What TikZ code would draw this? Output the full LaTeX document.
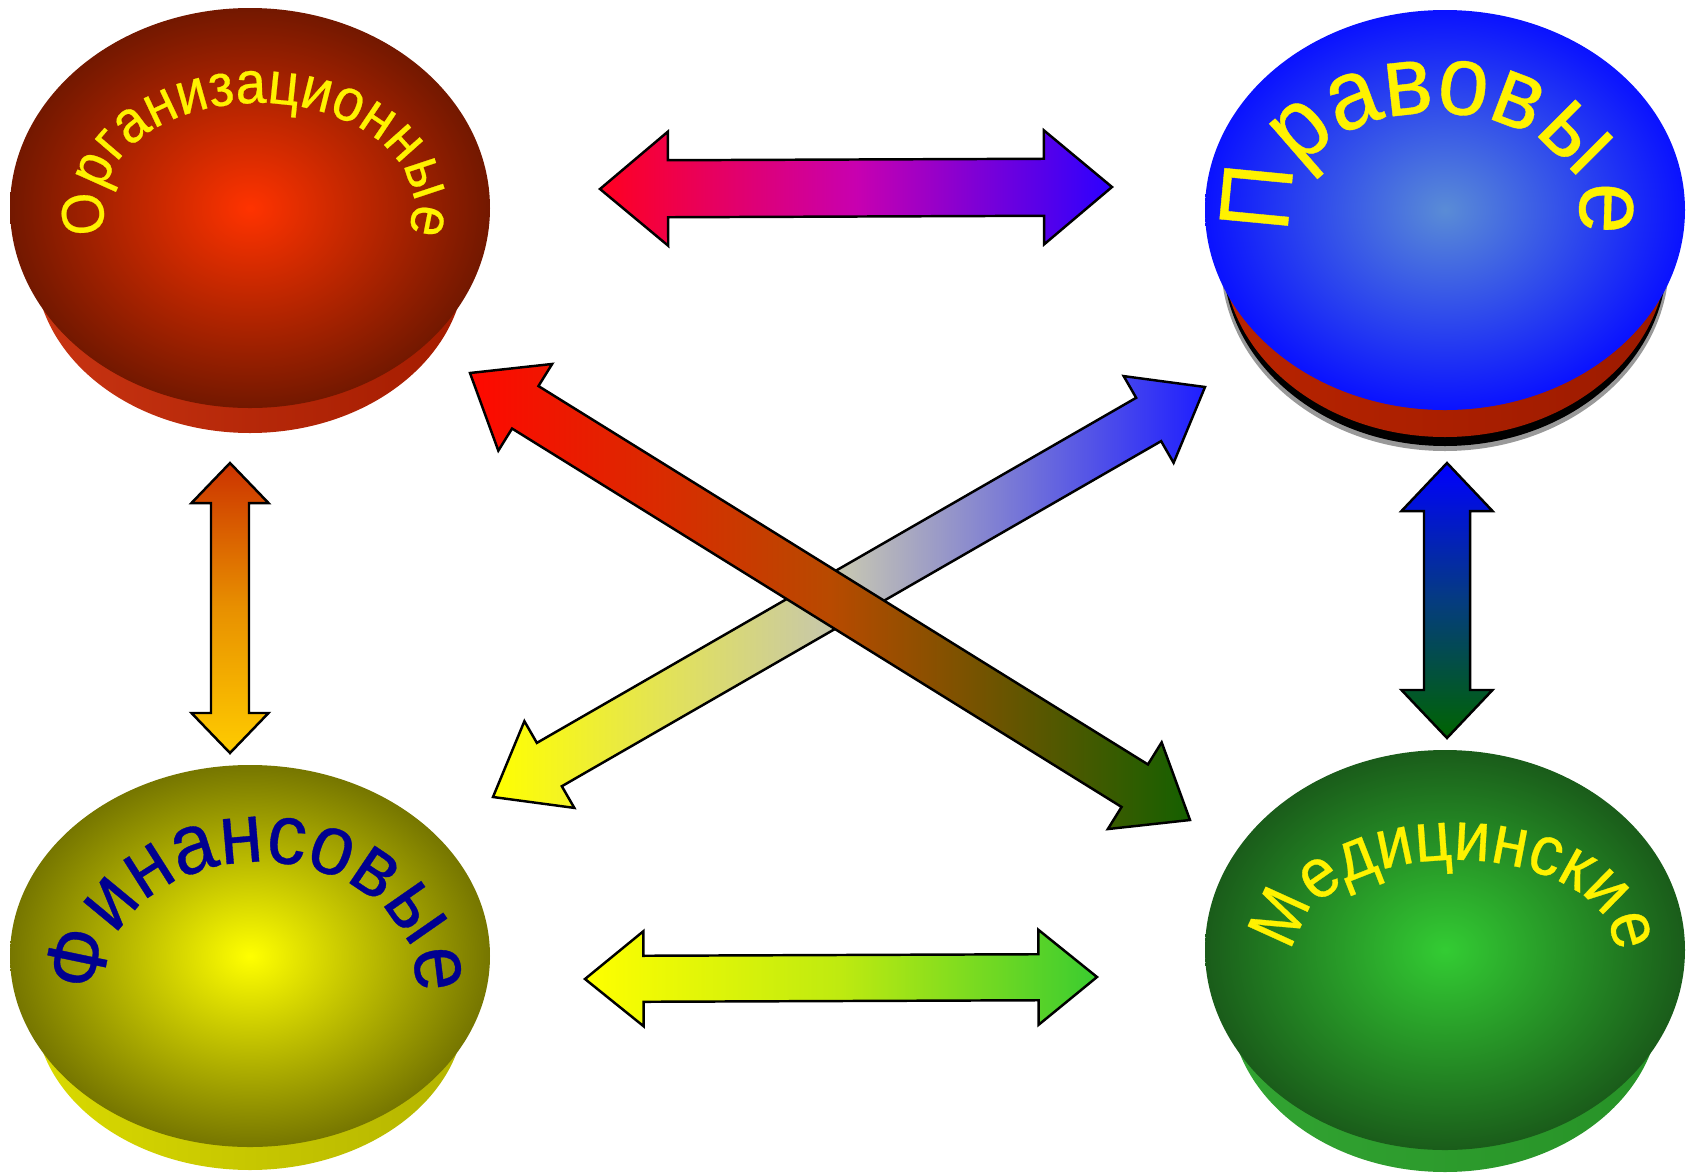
\documentclass[tikz,border=0pt]{standalone}
\usepackage{fontspec}
\setmainfont{Liberation Sans}
\newfontfamily\archfont[FakeStretch=0.92, FakeBold=0.4]{Liberation Sans}
\usetikzlibrary{calc,decorations.text}

\definecolor{orgin}{HTML}{FF3300}
\definecolor{orgout}{HTML}{731800}
\definecolor{orgsideL}{HTML}{C83412}
\definecolor{orgsideR}{HTML}{A41C00}
\definecolor{pravin}{HTML}{5A8CD6}
\definecolor{pravout}{HTML}{0A12FF}
\definecolor{pravsideL}{HTML}{B82400}
\definecolor{pravsideR}{HTML}{9C1A00}
\definecolor{finin}{HTML}{FFFF00}
\definecolor{finout}{HTML}{767600}
\definecolor{finsideL}{HTML}{DADA00}
\definecolor{finsideR}{HTML}{B4B400}
\definecolor{medin}{HTML}{33CC33}
\definecolor{medout}{HTML}{1A5C1A}
\definecolor{medsideL}{HTML}{32A432}
\definecolor{medsideR}{HTML}{279227}
\definecolor{finink}{HTML}{000090}
% arrow colours
\definecolor{topL}{HTML}{FF0020}
\definecolor{topM}{HTML}{C800B0}
\definecolor{topR}{HTML}{2C00FF}
\definecolor{botL}{HTML}{FFFF00}
\definecolor{botM}{HTML}{BEEA10}
\definecolor{botR}{HTML}{3ACC30}
\definecolor{lvT}{HTML}{CC3300}
\definecolor{lvM}{HTML}{E89000}
\definecolor{lvB}{HTML}{FFCC00}
\definecolor{rvT}{HTML}{0000FF}
\definecolor{rvM}{HTML}{053C80}
\definecolor{rvB}{HTML}{006400}
\definecolor{rdL}{HTML}{FF0800}
\definecolor{rdM}{HTML}{B84A00}
\definecolor{rdR}{HTML}{156000}
\definecolor{ybL}{HTML}{FFFF00}
\definecolor{ybM}{HTML}{C4C4B4}
\definecolor{ybR}{HTML}{1E1EFF}

% double block arrow: from, to, head length, head half width, shaft half width, colours
\newcommand{\dblarrow}[6]{%
  \coordinate (hA) at ($(#1)!#3!(#2)$);
  \coordinate (hB) at ($(#2)!#3!(#1)$);
  \path[arrowbody,#6] (#1) -- ($(hA)!#4!90:(#2)$) -- ($(hA)!#5!90:(#2)$)
    -- ($(hB)!#5!-90:(#1)$) -- ($(hB)!#4!-90:(#1)$) -- (#2)
    -- ($(hB)!#4!90:(#1)$) -- ($(hB)!#5!90:(#1)$)
    -- ($(hA)!#5!-90:(#2)$) -- ($(hA)!#4!-90:(#2)$) -- cycle;
}
% label bent along an arch, centred on its top: centre, x radius, y radius, size (pt), colour, text
\newcommand{\archlabel}[6]{%
  \path[decorate, decoration={text along path, text align=center,
      text={|\archfont\fontsize{#4}{#4}\selectfont\color{#5}|#6}}]
    (#1) ++(235:#2 and #3) arc[start angle=235, end angle=-55, x radius=#2, y radius=#3];
}

\begin{document}
\begin{tikzpicture}[x=0.01cm, y=0.01cm,
    arrowbody/.style={draw=black, line width=0.7pt, line join=miter}]
  \useasboundingbox (0,0) rectangle (1696,-1172);

  % discs
  \coordinate (org) at (250,-208);
  \coordinate (prav) at (1445,-210);
  \coordinate (fin) at (250,-956);
  \coordinate (med) at (1445,-950);

  \path[left color=orgsideL, right color=orgsideR] ($(org)+(0,-55)$) ellipse[x radius=215, y radius=170];
  \path[inner color=orgin, outer color=orgout] (org) ellipse[x radius=240, y radius=200];

  \fill[black, opacity=.4] ($(prav)+(0,-52)$) ellipse[x radius=224, y radius=189];
  \fill[black] ($(prav)+(0,-49)$) ellipse[x radius=222, y radius=187];
  \path[left color=pravsideL, right color=pravsideR] ($(prav)+(0,-43)$) ellipse[x radius=222, y radius=184];
  \path[inner color=pravin, outer color=pravout] (prav) ellipse[x radius=240, y radius=200];

  \path[left color=finsideL, right color=finsideR] ($(fin)+(0,-52)$) ellipse[x radius=215, y radius=162];
  \path[inner color=finin, outer color=finout] (fin) ellipse[x radius=240, y radius=191];

  \path[left color=medsideL, right color=medsideR] ($(med)+(0,-53)$) ellipse[x radius=215, y radius=169];
  \path[inner color=medin, outer color=medout] (med) ellipse[x radius=240, y radius=200];

  % labels
  \coordinate (orgtxt) at (258,-205);
  \coordinate (pravtxt) at (1435,-206);
  \coordinate (fintxt) at (260,-983);
  \coordinate (medtxt) at (1455,-948);
  \archlabel{orgtxt}{155}{102}{17}{yellow}{Организационные}
  \archlabel{pravtxt}{145}{93}{28.3}{yellow}{Правовые}
  \archlabel{fintxt}{156}{121}{24.2}{finink}{Финансовые}
  \archlabel{medtxt}{159}{88}{20}{yellow}{Медицинские}

  % arrow ends
  \coordinate (orgE) at (600,-189);
  \coordinate (pravW) at (1112,-187);
  \coordinate (finE) at (585,-979);
  \coordinate (medW) at (1097,-977);
  \coordinate (orgS) at (230,-463);
  \coordinate (finN) at (230,-753);
  \coordinate (pravS) at (1447,-463);
  \coordinate (medN) at (1447,-738);
  \coordinate (orgSE) at (470,-373);
  \coordinate (medNW) at (1190,-820);
  \coordinate (finNE) at (493,-797);
  \coordinate (pravSW) at (1205,-387);

  % arrows
  \dblarrow{orgE}{pravW}{0.68cm}{0.57cm}{0.285cm}{left color=topL, right color=topR, middle color=topM}
  \dblarrow{finE}{medW}{0.585cm}{0.475cm}{0.23cm}{left color=botL, right color=botR, middle color=botM}
  \dblarrow{orgS}{finN}{0.40cm}{0.385cm}{0.19cm}{top color=lvT, bottom color=lvB, middle color=lvM}
  \dblarrow{pravS}{medN}{0.48cm}{0.455cm}{0.23cm}{top color=rvT, bottom color=rvB, middle color=rvM}
  \dblarrow{finNE}{pravSW}{0.65cm}{0.50cm}{0.25cm}{left color=ybL, right color=ybR, middle color=ybM}
  \dblarrow{orgSE}{medNW}{0.65cm}{0.51cm}{0.25cm}{left color=rdL, right color=rdR, middle color=rdM}
\end{tikzpicture}
\end{document}
